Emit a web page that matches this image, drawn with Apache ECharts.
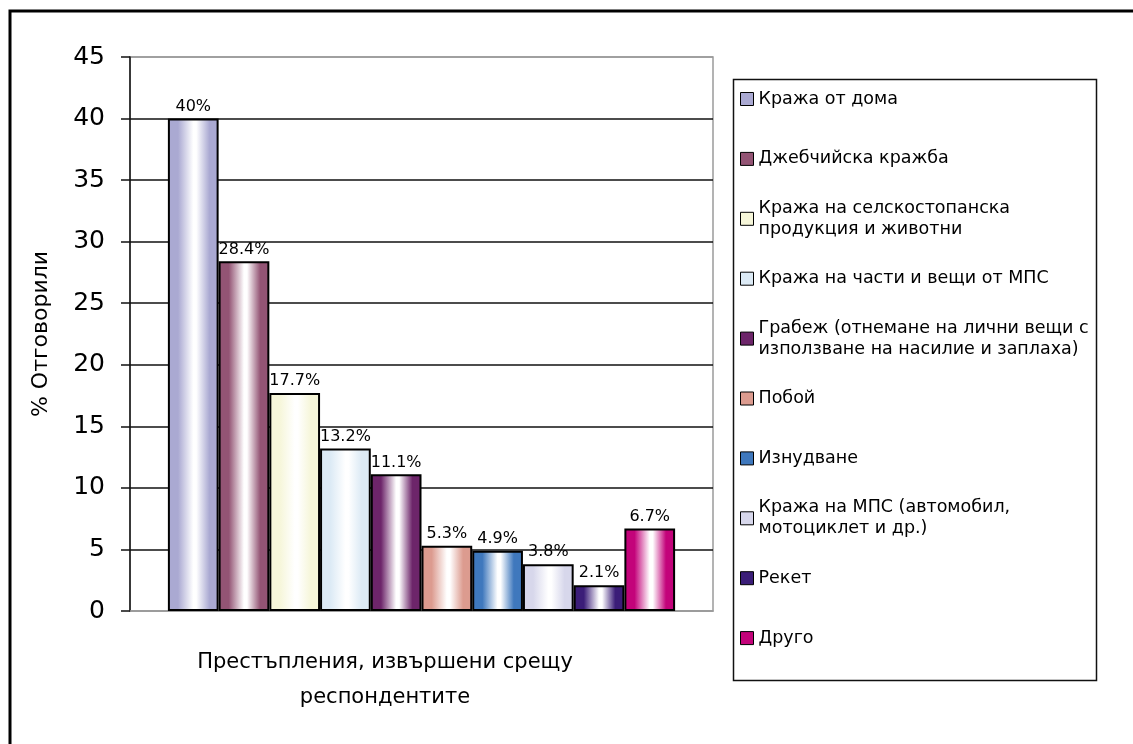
<!DOCTYPE html>
<html>
<head>
<meta charset="utf-8">
<script src="https://cdn.jsdelivr.net/npm/echarts@6/dist/echarts.min.js"></script>
<style>
  html, body { margin: 0; padding: 0; background: #fff; }
  #chart { width: 1133px; height: 744px; }
</style>
</head>
<body>
<div id="chart"></div>
<script>
// crime types (legend / series)
const crimes = [
  'Кража от дома',
  'Джебчийска кражба',
  'Кража на селскостопанска продукция и животни',
  'Кража на части и вещи от МПС',
  'Грабеж (отнемане на лични вещи с използване на насилие и заплаха)',
  'Побой',
  'Изнудване',
  'Кража на МПС (автомобил, мотоциклет и др.)',
  'Рекет',
  'Друго'
]
// legend text as wrapped in the picture
const legendText = [
  'Кража от дома',
  'Джебчийска кражба',
  'Кража на селскостопанска\nпродукция и животни',
  'Кража на части и вещи от МПС',
  'Грабеж (отнемане на лични вещи с\nизползване на насилие и заплаха)',
  'Побой',
  'Изнудване',
  'Кража на МПС (автомобил,\nмотоциклет и др.)',
  'Рекет',
  'Друго'
]
const percents = [40, 28.4, 17.7, 13.2, 11.1, 5.3, 4.9, 3.8, 2.1, 6.7]
const colors = ['#aaa9d2', '#935474', '#f6f6d9', '#dceaf5', '#6d256a', '#dc9b8f', '#3f78bd', '#d7d7eb', '#3b1d78', '#c3037a']
const yTicks = [0, 45, 5]
const yTitle = '% Отговорили'
const xTitle = 'Престъпления, извършени срещу\nреспондентите'

const FONT = 'DejaVu Sans'

function shade (c) {
  return {
    type: 'linear', x: 0, y: 0, x2: 1, y2: 0,
    colorStops: [
      { offset: 0, color: c },
      { offset: 0.2, color: c },
      { offset: 0.5, color: '#ffffff' },
      { offset: 0.56, color: '#ffffff' },
      { offset: 0.82, color: c },
      { offset: 1, color: c }
    ]
  }
}

const series = crimes.map((name, i) => ({
  name: name,
  type: 'bar',
  barGap: '0%',
  barCategoryGap: '13%',
  data: [percents[i]],
  itemStyle: { color: shade(colors[i]), borderColor: '#000', borderWidth: 2 },
  label: {
    show: true,
    position: 'top',
    distance: 4,
    formatter: '{c}%',
    color: '#000',
    fontFamily: FONT,
    fontSize: 16
  }
}))

// one legend per item so each sits in its own 60px slot
const legends = crimes.map((name, i) => {
  const center = 99 + i * 59.9
  const twoLines = legendText[i].indexOf('\n') >= 0
  return {
    left: 740,
    top: twoLines ? center - 31.5 : center - 10.5,
    padding: 0,
    itemWidth: 13,
    itemHeight: 13,
    icon: 'rect',
    selectedMode: false,
    formatter: () => legendText[i],
    data: [{
      name: name,
      itemStyle: { color: colors[i], borderColor: '#000', borderWidth: 1 },
      textStyle: twoLines ? { padding: [21, 0, 0, 0] } : {}
    }],
    textStyle: { fontFamily: FONT, fontSize: 17.5, lineHeight: 21, color: '#000' }
  }
})

const gridLineColors = []
for (let v = yTicks[0]; v <= yTicks[1]; v += yTicks[2]) {
  gridLineColors.push(v === yTicks[0] || v === yTicks[1] ? '#9a9a9a' : '#111')
}

const chart = echarts.init(document.getElementById('chart'))
chart.setOption({
  animation: false,
  backgroundColor: '#fff',
  grid: {
    left: 130, top: 57, width: 583, height: 554,
    show: true, borderColor: '#9a9a9a', borderWidth: 1.5,
    outerBoundsMode: 'none'
  },
  xAxis: {
    type: 'category',
    data: [''],
    axisLine: { lineStyle: { color: '#9a9a9a', width: 1.5 } },
    axisTick: { show: false },
    axisLabel: { show: false },
    name: xTitle,
    nameLocation: 'middle',
    nameGap: 34,
    nameTextStyle: { fontFamily: FONT, fontSize: 21, lineHeight: 35, color: '#000', padding: [0, 73, 0, 0] }
  },
  yAxis: {
    type: 'value',
    min: yTicks[0],
    max: yTicks[1],
    interval: yTicks[2],
    axisLine: { show: true, lineStyle: { color: '#111', width: 1.5 } },
    axisTick: { show: true, length: 9, lineStyle: { color: '#111', width: 1.5 } },
    axisLabel: { fontFamily: FONT, fontSize: 25, color: '#000', margin: 25 },
    splitLine: { lineStyle: { color: gridLineColors, width: 1.5 } },
    name: yTitle,
    nameLocation: 'middle',
    nameGap: 78,
    nameTextStyle: { fontFamily: FONT, fontSize: 22, color: '#000' }
  },
  legend: legends,
  graphic: [
    {
      type: 'rect',
      shape: { x: 10, y: 11, width: 1300, height: 900 },
      style: { fill: null, stroke: '#000', lineWidth: 3 },
      silent: true
    },
    {
      type: 'rect',
      shape: { x: 733.5, y: 79.5, width: 363, height: 601 },
      style: { fill: null, stroke: '#111', lineWidth: 1.5 },
      silent: true
    }
  ],
  series: series
})
</script>
</body>
</html>
